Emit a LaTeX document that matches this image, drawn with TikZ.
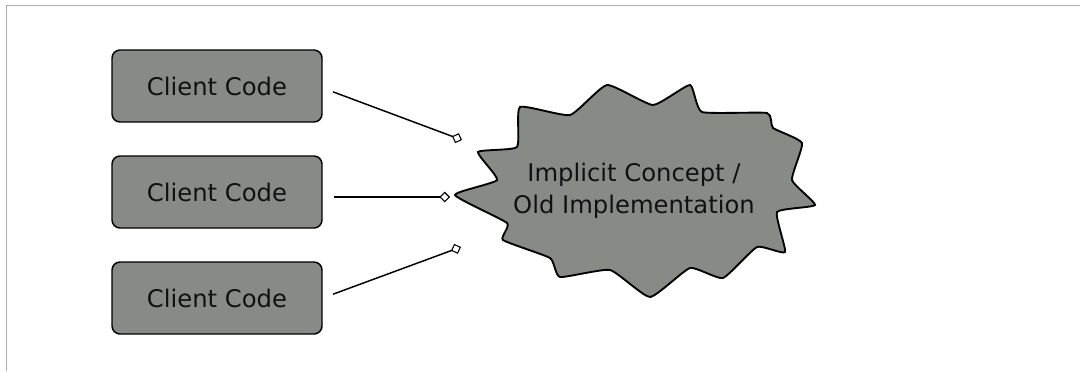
\documentclass[tikz,border=0pt]{standalone}
\usepackage{fontspec}
\setmainfont{DejaVu Sans}
\usetikzlibrary{arrows.meta}
\definecolor{boxgray}{HTML}{888A85}
\definecolor{framegray}{HTML}{ABABAB}
\definecolor{inkblack}{HTML}{111111}

\begin{document}
\begin{tikzpicture}[x=0.75pt,y=-0.75pt,
  client/.style={draw=black, line width=1.1pt, fill=boxgray, rounded corners=6pt,
    minimum width=157.5pt, minimum height=54pt, inner sep=0pt,
    text=inkblack, font=\fontsize{18.2pt}{22pt}\selectfont},
  link/.style={line width=1.1pt, shorten <=8.25pt,
    -{Diamond[open, length=8pt, width=8pt, line width=0.8pt]}},
  blob/.style={draw=black, line width=1.4pt, fill=boxgray},
  blobtext/.style={align=center, text=inkblack,
    font=\fontsize{18.2pt}{23.7pt}\selectfont}
]
\useasboundingbox (0,0) rectangle (1080,371);

% frame along the top and left edges
\draw[framegray, line width=0.9pt] (6.5,371) -- (6.5,5.5) -- (1080,5.5);

% client boxes
\node[client] (c1) at (217,86)  {Client Code};
\node[client] (c2) at (217,192) {Client Code};
\node[client] (c3) at (217,298) {Client Code};

% the starburst holding the old implementation
\draw[blob] plot[smooth cycle, tension=0.28] coordinates {
  (455,195) (497,180) (478,152) (517,147) (520,107) (570,115)
  (607,85)  (653,105) (690,85)  (702,112) (767,113) (773,128)
  (802,143) (792,180) (815,205) (777,212) (785,252) (757,247)
  (723,278) (690,268) (650,297) (610,270) (560,277) (550,258)
  (503,240) (507,223)};
\node[blobtext] (impl) at (634,191) {Implicit Concept /\\Old Implementation};

% start points beside the boxes and free ends of the dependency links
\coordinate (s1) at ([yshift=-1.5pt]c1.east);
\coordinate (s2) at ([yshift=-3.75pt]c2.east);
\coordinate (e1) at (462,140);
\coordinate (e2) at (450,197);
\coordinate (e3) at (461,247);

\draw[link] (s1) -- (e1);
\draw[link] (s2) -- (e2);
\draw[link] (c3.east) -- (e3);
\end{tikzpicture}
\end{document}
